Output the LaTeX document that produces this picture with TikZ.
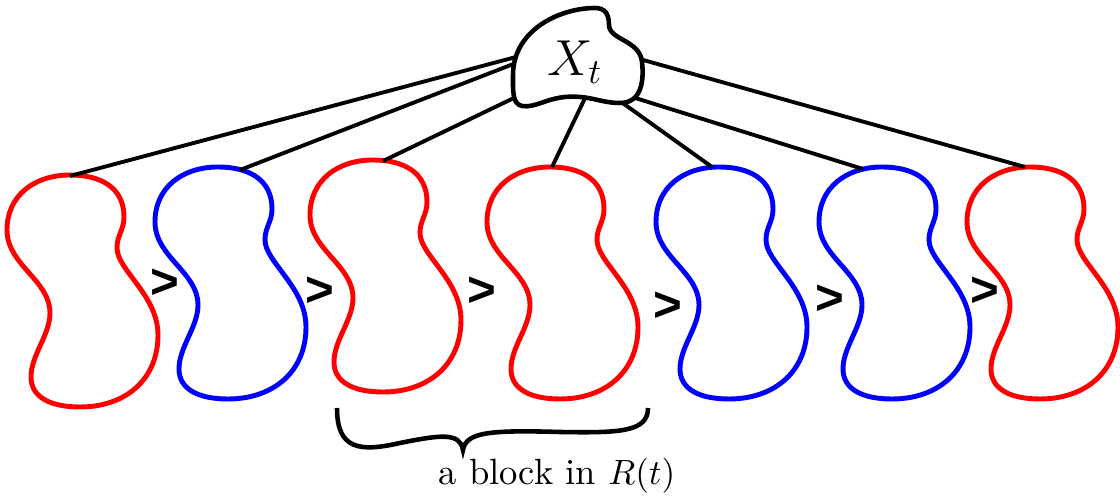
\documentclass[tikz,border=0pt]{standalone}
\usepackage{fontspec}
\newfontfamily\gtfont{Liberation Sans}
\tikzset{
  blob/.pic={
    \draw[line width=1.4pt] (0,0) .. controls (0.30,0) and (0.54,-0.12) .. (0.54,-0.42)
      .. controls (0.54,-0.55) and (0.47,-0.60) .. (0.47,-0.73)
      .. controls (0.47,-0.95) and (0.88,-1.20) .. (0.88,-1.60)
      .. controls (0.88,-2.05) and (0.55,-2.32) .. (0.10,-2.32)
      .. controls (-0.20,-2.32) and (-0.39,-2.22) .. (-0.39,-2.02)
      .. controls (-0.39,-1.80) and (-0.20,-1.60) .. (-0.20,-1.38)
      .. controls (-0.20,-1.05) and (-0.63,-0.90) .. (-0.63,-0.55)
      .. controls (-0.63,-0.20) and (-0.35,0) .. cycle;
  },
  gt/.style={font=\gtfont\bfseries\fontsize{14}{14}\selectfont,inner sep=0pt},
  link/.style={line width=1.1pt}
}
\begin{document}
\begin{tikzpicture}
\useasboundingbox (0,0) rectangle (11.2,4.97);
% Mengen in der Reihe, rot und blau
\pic[red]  (b1) at (0.70,3.22) {blob};
\pic[blue] (b2) at (2.18,3.30) {blob};
\pic[red]  (b3) at (3.73,3.37) {blob};
\pic[red]  (b4) at (5.50,3.30) {blob};
\pic[blue] (b5) at (7.19,3.30) {blob};
\pic[blue] (b6) at (8.82,3.30) {blob};
\pic[red]  (b7) at (10.30,3.30) {blob};
% Vergleichszeichen dazwischen
\node[gt] (g1) at (1.65,2.13) {>};
\node[gt] (g2) at (3.20,2.05) {>};
\node[gt] (g3) at (4.82,2.05) {>};
\node[gt] (g4) at (6.68,1.90) {>};
\node[gt] (g5) at (8.30,1.97) {>};
\node[gt] (g6) at (9.85,2.05) {>};
% Ansatzpunkte oben an den Mengen
\coordinate (a1) at (0.70,3.21);
\coordinate (a2) at (2.40,3.27);
\coordinate (a3) at (3.83,3.36);
\coordinate (a4) at (5.52,3.30);
\coordinate (a5) at (7.12,3.30);
\coordinate (a6) at (8.63,3.28);
\coordinate (a7) at (10.25,3.30);
% Ansatzpunkte in X_t (vom Rand verdeckt)
\coordinate (x1) at (5.16,4.40);
\coordinate (x2) at (5.16,4.34);
\coordinate (x3) at (5.16,4.00);
\coordinate (x4) at (5.87,4.03);
\coordinate (x5) at (6.17,3.98);
\coordinate (x6) at (6.32,4.00);
\coordinate (x7) at (6.36,4.39);
\foreach \i in {1,...,7}
  \draw[link] (x\i) -- (a\i);
% die Menge X_t oben
\draw[line width=1.3pt,fill=white] (5.13,4.22) .. controls (5.13,4.67) and (5.60,4.89) .. (5.95,4.89)
  .. controls (6.05,4.89) and (6.09,4.83) .. (6.09,4.72)
  .. controls (6.09,4.57) and (6.40,4.57) .. (6.42,4.35)
  .. controls (6.44,4.17) and (6.42,3.94) .. (6.20,3.94)
  .. controls (6.00,3.94) and (5.90,4.02) .. (5.65,4.00)
  .. controls (5.45,3.98) and (5.35,3.89) .. (5.22,3.91)
  .. controls (5.12,3.93) and (5.13,4.07) .. cycle;
\node[font=\fontsize{14}{16}\selectfont] (X) at (5.75,4.35) {$X_t$};
% Klammer unter dem Block
\draw[line width=1.3pt] (3.37,0.89) .. controls (3.37,0.47) and (3.60,0.45) .. (4.00,0.54)
  .. controls (4.40,0.62) and (4.60,0.65) .. (4.63,0.47)
  .. controls (4.66,0.65) and (4.90,0.67) .. (5.60,0.65)
  .. controls (6.20,0.64) and (6.48,0.65) .. (6.48,0.89);
\node[anchor=base,font=\fontsize{10.4}{12}\selectfont] (lbl) at (5.57,0.12) {a block in $R(t)$};
\end{tikzpicture}
\end{document}
